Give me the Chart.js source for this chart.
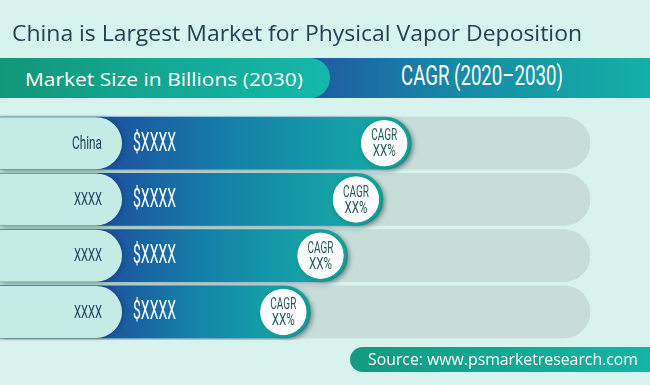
<!DOCTYPE html>
<html>
<head>
<meta charset="utf-8">
<script src="https://cdn.jsdelivr.net/npm/chart.js@4.4.1/dist/chart.umd.min.js"></script>
<style>
  html,body{margin:0;padding:0;}
  body{width:650px;height:385px;background:#d8f2ee;position:relative;overflow:hidden;font-family:"Open Sans",sans-serif;}
  #c{position:absolute;left:0;top:0;}
  .fit{position:absolute;white-space:nowrap;transform-origin:0 50%;display:inline-block;}
  .title{left:12px;top:17px;font-size:22px;color:#1f4352;}
  .hdr-right{position:absolute;left:300px;top:58px;width:350px;height:40px;background:linear-gradient(90deg,#1e58a0 0%,#178aa6 45%,#14b0a6 100%);}
  .hdr-left{position:absolute;left:0;top:58px;width:330px;height:40px;border-radius:0 20px 20px 0;background:linear-gradient(90deg,#12977a 0%,#14a894 50%,#14b8aa 100%);}
  .hdr-left .fit{left:25px;top:8px;font-size:18.5px;color:#fff;}
  .hdr-right .fit{left:101px;top:1px;font-family:Roboto,sans-serif;font-size:28px;color:#fff;}
  .src{position:absolute;left:350px;top:347px;width:300px;height:25px;border-radius:13px 0 0 13px;background:linear-gradient(90deg,#139a80 0%,#14b4a6 100%);}
  .src .fit{left:18px;top:1px;font-size:16px;color:#fff;}
</style>
</head>
<body>
<canvas id="c" width="650" height="385"></canvas>
<div class="fit title" data-w="570">China is Largest Market for Physical Vapor Deposition</div>
<div class="hdr-right"><span class="fit" data-w="162">CAGR (2020–2030)</span></div>
<div class="hdr-left"><span class="fit" data-w="278">Market Size in Billions (2030)</span></div>
<div class="src"><span class="fit" data-w="270">Source: www.psmarketresearch.com</span></div>
<script>
// ---- data ----
const categories = ['China', 'XXXX', 'XXXX', 'XXXX'];
const marketSize = [69.7, 64.9, 58.9, 52.6];       // relative bar length (share of track)
const marketLabels = ['$XXXX', '$XXXX', '$XXXX', '$XXXX'];
const cagrLabels = ['XX%', 'XX%', 'XX%', 'XX%'];
const trackValues = [100, 100, 100, 100];

// fit html texts horizontally
document.querySelectorAll('.fit').forEach(el => {
  const w = el.getBoundingClientRect().width;
  const target = +el.dataset.w;
  if (w > 0 && target) el.style.transform = 'scaleX(' + (target / w) + ')';
});

const NARROW = 'Roboto, sans-serif';

function narrowText(ctx, text, x, y, font, targetW, align) {
  ctx.save();
  ctx.font = font;
  ctx.textBaseline = 'middle';
  ctx.textAlign = align;
  const w = ctx.measureText(text).width;
  ctx.translate(x, y);
  ctx.scale(targetW / w, 1);
  ctx.fillText(text, 0, 0);
  ctx.restore();
}

function barGradient(context) {
  const chart = context.chart;
  const xs = chart.scales && chart.scales.x;
  if (!xs || !chart.chartArea) return '#1a7fa5';
  const end = xs.getPixelForValue(context.raw);
  const g = chart.ctx.createLinearGradient(100, 0, end, 0);
  g.addColorStop(0, '#1d4f9f');
  g.addColorStop(0.45, '#1483a8');
  g.addColorStop(1, '#15afa5');
  return g;
}

function roundRightRect(ctx, x0, y0, x1, y1, r) {
  ctx.beginPath();
  ctx.moveTo(x0, y0);
  ctx.lineTo(x1 - r, y0);
  ctx.arc(x1 - r, (y0 + y1) / 2, r, -Math.PI / 2, Math.PI / 2);
  ctx.lineTo(x0, y1);
  ctx.closePath();
}

const decor = {
  id: 'decor',
  beforeDatasetDraw(chart, args) {
    const ctx = chart.ctx;
    ctx.save();
    if (args.index === 1) {
      ctx.shadowColor = 'rgba(0,40,60,0.35)';
      ctx.shadowBlur = 5;
      ctx.shadowOffsetX = 2;
      ctx.shadowOffsetY = 2;
    }
  },
  afterDatasetDraw(chart) {
    chart.ctx.restore();
  },
  afterDatasetsDraw(chart) {
    const ctx = chart.ctx;
    const meta = chart.getDatasetMeta(1);
    meta.data.forEach((bar, i) => {
      const yc = bar.y;
      const h = bar.height;
      const y0 = yc - h / 2, y1 = yc + h / 2;
      // label pill
      ctx.save();
      ctx.shadowColor = 'rgba(0,40,60,0.25)';
      ctx.shadowBlur = 4;
      ctx.shadowOffsetX = 2;
      roundRightRect(ctx, -10, y0, 122, y1, h / 2);
      ctx.fillStyle = '#c4ebe5';
      ctx.fill();
      ctx.restore();
      // category label
      ctx.fillStyle = '#1d3d5c';
      narrowText(ctx, categories[i], 102, yc + 1, '19px ' + NARROW, i === 0 ? 30 : 28, 'right');
      // value label
      ctx.fillStyle = '#ffffff';
      narrowText(ctx, marketLabels[i], 133, yc + 1, '26px ' + NARROW, 43, 'left');
      // CAGR circle
      const cx = bar.x - 27;
      const r = 23.5;
      ctx.save();
      ctx.shadowColor = 'rgba(0,40,60,0.4)';
      ctx.shadowBlur = 5;
      ctx.shadowOffsetX = 3;
      ctx.shadowOffsetY = 2;
      ctx.beginPath();
      ctx.arc(cx, yc, r, 0, Math.PI * 2);
      ctx.fillStyle = '#ffffff';
      ctx.fill();
      ctx.restore();
      ctx.save();
      ctx.beginPath();
      ctx.arc(cx, yc, r + 1, 0, Math.PI * 2);
      ctx.strokeStyle = '#169e96';
      ctx.lineWidth = 2.5;
      ctx.stroke();
      ctx.restore();
      ctx.fillStyle = '#1c5a58';
      narrowText(ctx, 'CAGR', cx, yc - 7, '16.5px ' + NARROW, 26, 'center');
      narrowText(ctx, cagrLabels[i], cx, yc + 9, '16.5px ' + NARROW, 23, 'center');
    });
  }
};

new Chart(document.getElementById('c'), {
  type: 'bar',
  data: {
    labels: categories,
    datasets: [
      {
        label: 'Track',
        data: trackValues,
        backgroundColor: '#c8dcd8',
        borderRadius: { topLeft: 0, bottomLeft: 0, topRight: 26, bottomRight: 26 },
        borderSkipped: false,
        barThickness: 52,
        grouped: false,
        order: 2
      },
      {
        label: 'Market Size in Billions (2030)',
        data: marketSize,
        backgroundColor: barGradient,
        borderRadius: { topLeft: 0, bottomLeft: 0, topRight: 26, bottomRight: 26 },
        borderSkipped: false,
        barThickness: 52,
        grouped: false,
        order: 1
      }
    ]
  },
  options: {
    indexAxis: 'y',
    responsive: false,
    animation: false,
    layout: { padding: { left: 0, right: 60, top: 115, bottom: 45 } },
    scales: {
      x: { display: false, min: 0, max: 100 },
      y: { display: false }
    },
    plugins: {
      legend: { display: false },
      tooltip: { enabled: false },
      title: { display: false }
    }
  },
  plugins: [decor]
});
</script>
</body>
</html>
